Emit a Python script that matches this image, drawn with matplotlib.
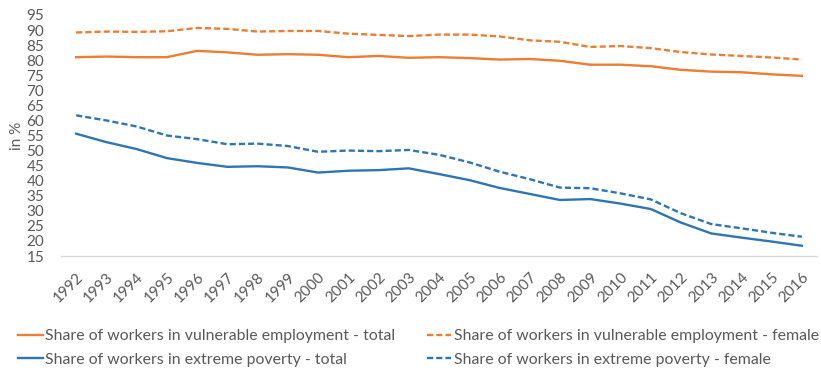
import matplotlib

matplotlib.use("Agg")
import matplotlib.pyplot as plt

years = [str(y) for y in range(1992, 2017)]

vuln_total = [81.0, 81.2, 81.0, 81.0, 83.1, 82.6, 81.8, 82.0, 81.8, 81.0, 81.4, 80.8,
              81.0, 80.7, 80.2, 80.4, 79.8, 78.5, 78.5, 78.0, 76.8, 76.2, 76.0, 75.3, 74.8]
vuln_female = [89.2, 89.5, 89.4, 89.6, 90.7, 90.4, 89.5, 89.7, 89.7, 88.8, 88.4, 88.0,
               88.5, 88.5, 87.9, 86.6, 86.1, 84.4, 84.7, 84.0, 82.7, 81.9, 81.4, 80.9, 80.2]
poverty_total = [55.6, 52.8, 50.5, 47.5, 45.9, 44.6, 44.8, 44.4, 42.7, 43.3, 43.5, 44.1,
                 42.2, 40.2, 37.6, 35.6, 33.6, 33.9, 32.4, 30.6, 26.1, 22.5, 21.1, 19.8, 18.4]
poverty_female = [61.7, 60.0, 58.0, 55.0, 53.8, 52.1, 52.3, 51.5, 49.6, 50.0, 49.8, 50.2,
                  48.6, 46.1, 43.0, 40.5, 37.7, 37.5, 35.8, 33.8, 29.2, 25.6, 24.2, 22.7, 21.4]

labels = [
    "Share of workers in vulnerable employment - total",
    "Share of workers in extreme poverty - total",
    "Share of workers in vulnerable employment - female",
    "Share of workers in extreme poverty - female",
]

ORANGE = "#ED7D31"
BLUE = "#2E75B6"
GREY = "#595959"

plt.rcParams["font.family"] = ["Lato", "DejaVu Sans"]

fig = plt.figure(figsize=(8.21, 3.70), dpi=100)
ax = fig.add_axes([61 / 821, 1 - 256 / 370, (817 - 61) / 821, (256 - 15) / 370])

x = range(len(years))
dash = (0, (2.6, 1.3))
l1, = ax.plot(x, vuln_total, color=ORANGE, lw=1.7)
l2, = ax.plot(x, poverty_total, color=BLUE, lw=1.7)
l3, = ax.plot(x, vuln_female, color=ORANGE, lw=1.7, linestyle=dash)
l4, = ax.plot(x, poverty_female, color=BLUE, lw=1.7, linestyle=dash)

ax.set_xlim(-0.5, len(years) - 0.5)
ax.set_ylim(15, 95)
ax.set_yticks(range(15, 96, 5))
ax.set_xticks(list(x))
ax.set_xticklabels(years, rotation=45, ha="right", rotation_mode="anchor")
ax.tick_params(axis="both", length=0, labelsize=11, colors=GREY)
ax.tick_params(axis="y", pad=12)
ax.tick_params(axis="x", pad=10)

for side in ("top", "right", "left"):
    ax.spines[side].set_visible(False)
ax.spines["bottom"].set_color("#D9D9D9")
ax.spines["bottom"].set_linewidth(1.0)

ax.set_ylabel("in %", color=GREY, fontsize=11, labelpad=2)

fig.legend(
    [l1, l2, l3, l4],
    labels,
    ncol=2,
    loc="center left",
    bbox_to_anchor=(18 / 821, 1 - 348 / 370),
    frameon=False,
    fontsize=11.4,
    labelcolor=GREY,
    handlelength=1.55,
    handletextpad=0.15,
    columnspacing=2.0,
    labelspacing=0.6,
    borderaxespad=0,
    borderpad=0,
)

fig.savefig("out.png", dpi=100)
